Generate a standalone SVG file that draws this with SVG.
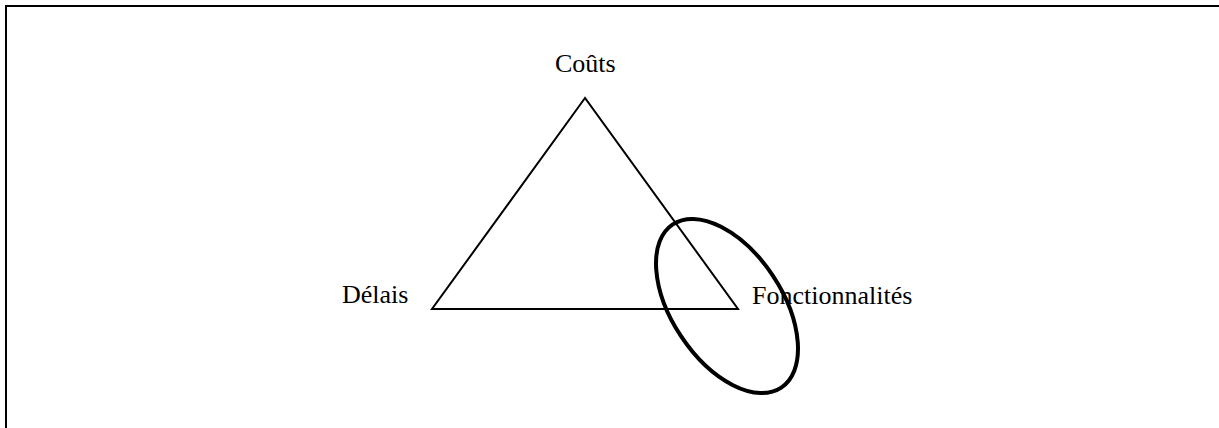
<svg xmlns="http://www.w3.org/2000/svg" width="1219" height="428" viewBox="0 0 1219 428">
<style>
.lbl{font-family:"Liberation Serif","Times New Roman",serif;font-size:26px;fill:#000}
.ln{fill:none;stroke:#000;stroke-width:2}
</style>
<rect width="1219" height="428" fill="#fff"/>
<path class="ln" d="M6,428 V6 H1219"/>
<g id="connectors">
<polygon class="ln" points="585,98 432,309 738,309" stroke-linejoin="miter"/>
</g>
<g id="ellipse">
<ellipse cx="727" cy="306" rx="98" ry="55" transform="rotate(56.4 727 306)" fill="none" stroke="#000" stroke-width="4"/>
</g>
<g id="node-couts"><text class="lbl" x="555" y="72">Coûts</text></g>
<g id="node-delais"><text class="lbl" x="342" y="303">Délais</text></g>
<g id="node-fonct"><text class="lbl" x="752" y="304">Fonctionnalités</text></g>
</svg>
